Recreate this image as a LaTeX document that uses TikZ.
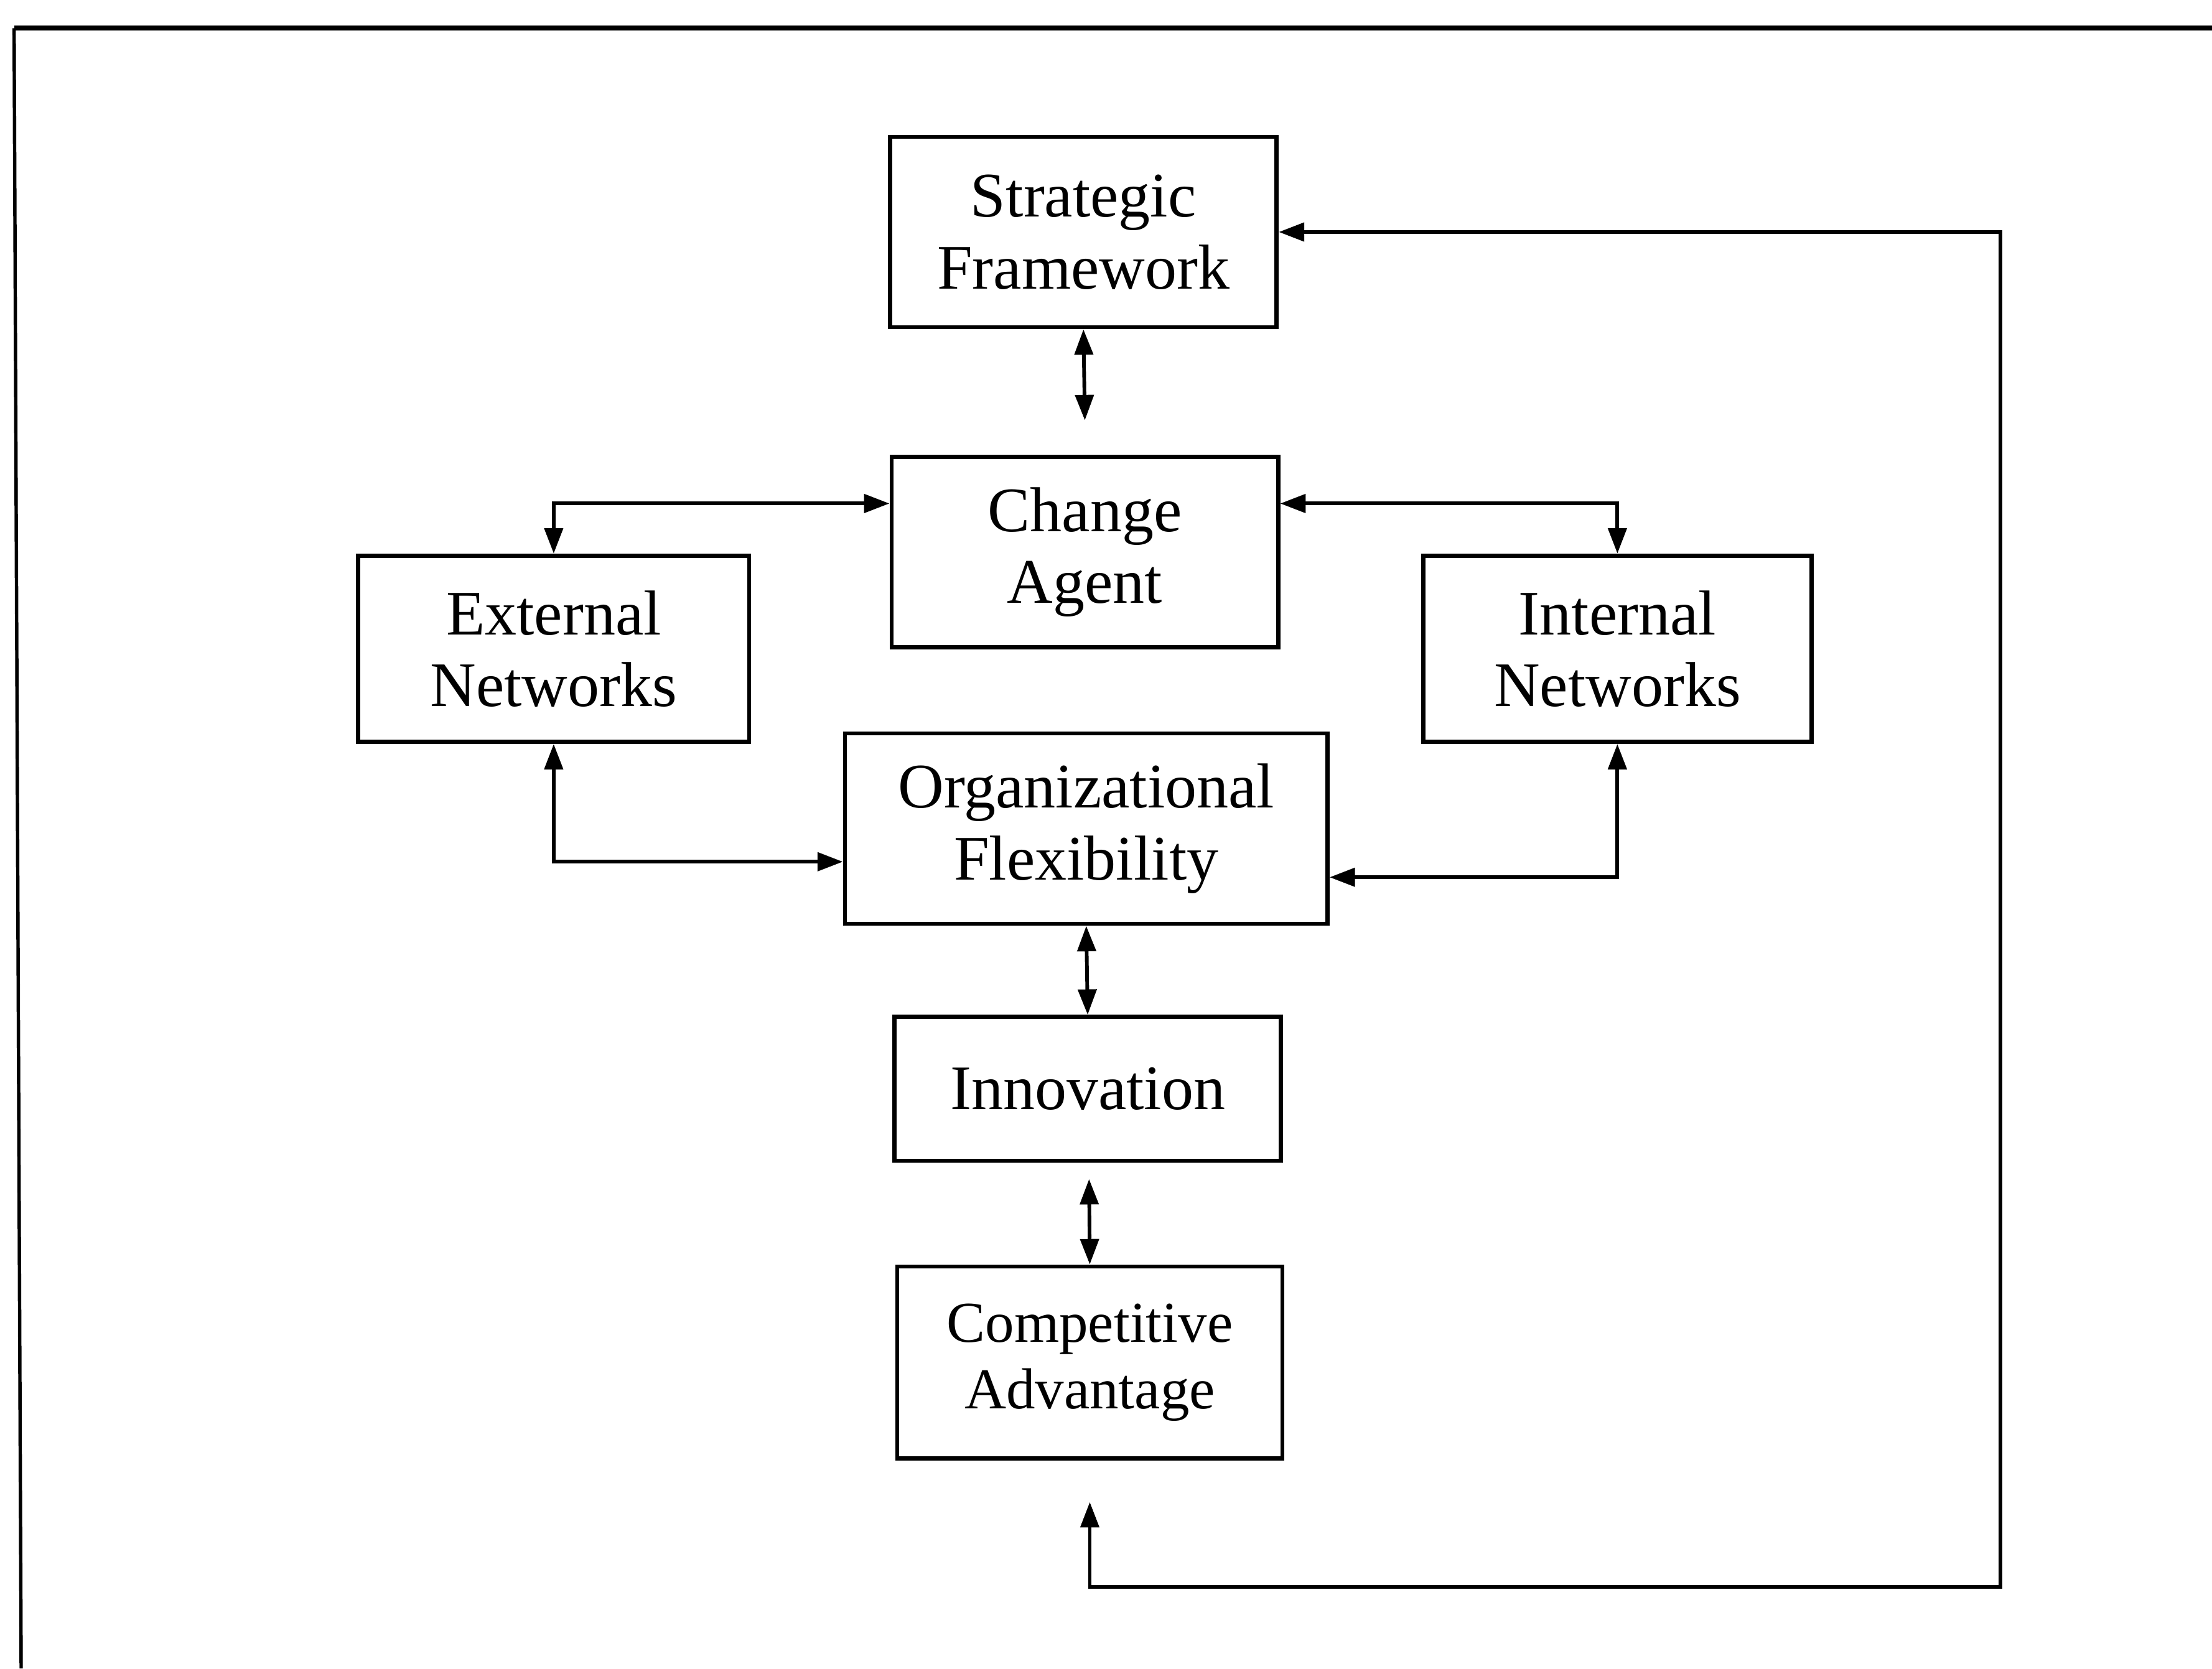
\documentclass[tikz,border=0pt]{standalone}
\usepackage{fontspec}
\setmainfont{Liberation Serif}
\usetikzlibrary{arrows.meta}
\begin{document}
\begin{tikzpicture}[x=0.5pt,y=-0.5pt,
  box/.style={draw,line width=1.5pt,inner sep=0pt,align=center,
    font=\fontsize{22.5}{25.5}\selectfont},
  conn/.style={line width=1.3pt,{Triangle[length=9pt,width=6.5pt]}-{Triangle[length=9pt,width=6.5pt]}},
  frame/.style={line width=1.5pt}]
\useasboundingbox (0,0) rectangle (1568,1183);
% outer frame (top and left only)
\draw[frame,line width=1.8pt] (10,20) -- (1568,20);
\draw[frame,line width=1.2pt] (10,20) -- (15,1183);
% boxes
\node[box,minimum width=137pt,minimum height=67.5pt] (SF) at (768,164.5) {Strategic\\Framework};
\node[box,minimum width=137pt,minimum height=67.5pt] (CA) at (769,391.5) {Change\\Agent};
\node[box,minimum width=138.5pt,minimum height=66pt] (EN) at (392.5,460) {External\\Networks};
\node[box,minimum width=137.5pt,minimum height=66pt] (IN) at (1146.5,460) {Internal\\Networks};
\node[box,minimum width=171pt,minimum height=67.5pt] (OF) at (770,587.5) {Organizational\\Flexibility};
\node[box,minimum width=137pt,minimum height=51pt] (INN) at (771,772) {Innovation};
\node[box,minimum width=136.5pt,minimum height=68pt,font=\fontsize{20.5}{23.5}\selectfont] (CP) at (772.5,966) {Competitive\\Advantage};
% helper coordinates
\coordinate (sfcaEnd) at (769,298);
\coordinate (caL) at (392.5,357);
\coordinate (caR) at (1146.5,357);
\coordinate (enB) at (392.5,611);
\coordinate (inB) at (1146.5,622);
\coordinate (inncpEnd) at (772,836);
\coordinate (fbTip) at (772.5,1065);
\coordinate (fbBL) at (772.5,1125);
\coordinate (fbBR) at (1418,1125);
\coordinate (fbTR) at (1418,164.5);
% connectors
\draw[conn] (SF.south) -- (sfcaEnd);
\draw[conn] (EN.north) -- (caL) -- (CA.west |- caL);
\draw[conn] (CA.east |- caR) -- (caR) -- (IN.north);
\draw[conn] (EN.south) -- (enB) -- (OF.west |- enB);
\draw[conn] (IN.south) -- (inB) -- (OF.east |- inB);
\draw[conn] (OF.south) -- (INN.north);
\draw[conn] (inncpEnd) -- (CP.north);
\draw[conn] (fbTip) -- (fbBL) -- (fbBR) -- (fbTR) -- (SF.east);
\end{tikzpicture}
\end{document}
